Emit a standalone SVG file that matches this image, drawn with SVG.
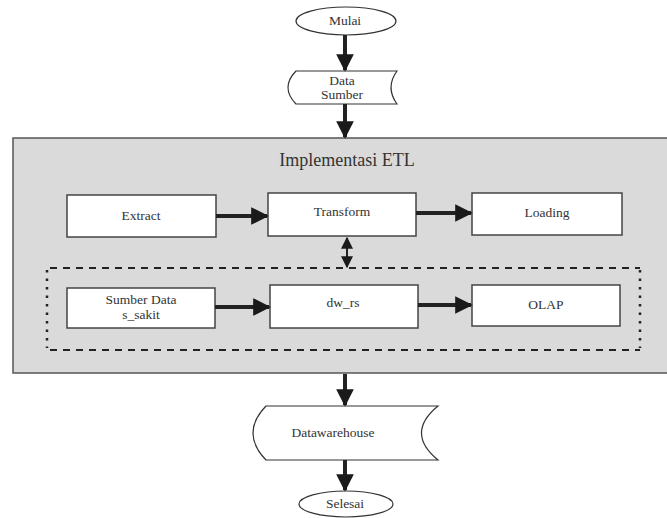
<svg xmlns="http://www.w3.org/2000/svg" width="667" height="518" viewBox="0 0 667 518">
  <style>
    .txt { font-family: "Liberation Serif", "DejaVu Serif", serif; fill: #333; text-anchor: middle; }
    .node { font-size: 13.5px; }
    .title { font-size: 18px; }
    .shape { fill: #fff; stroke: #333; stroke-width: 1.2; }
    .box { fill: #fff; stroke: #444; stroke-width: 1.5; }
    .flow { stroke: #222; stroke-width: 4; fill: none; }
    .dash-h { stroke: #222; stroke-width: 2; stroke-dasharray: 7 6; fill: none; }
    .dash-v { stroke: #222; stroke-width: 2.5; stroke-dasharray: 2.5 6; fill: none; }
  </style>
  <defs>
    <marker id="head" viewBox="0 0 10 10" refX="9" refY="5" markerWidth="4.4" markerHeight="4.4" orient="auto" markerUnits="strokeWidth">
      <path d="M0,0 L10,5 L0,10 Z" fill="#1a1a1a"/>
    </marker>
    <marker id="headSmall" viewBox="0 0 10 10" refX="9" refY="5" markerWidth="6" markerHeight="6" orient="auto-start-reverse" markerUnits="strokeWidth">
      <path d="M0,0 L10,5 L0,10 Z" fill="#1a1a1a"/>
    </marker>
  </defs>

  <rect width="667" height="518" fill="#fff"/>

  <!-- ETL container -->
  <g id="etl-container">
    <rect x="13" y="138" width="670" height="235" fill="#dadada" stroke="#555" stroke-width="1.5"/>
    <text class="txt title" x="347" y="166">Implementasi ETL</text>
  </g>

  <!-- dashed group around the data flow -->
  <g id="data-group">
    <line class="dash-h" x1="50" y1="268" x2="640" y2="268"/>
    <line class="dash-h" x1="50" y1="350" x2="640" y2="350"/>
    <line class="dash-v" x1="47" y1="270" x2="47" y2="348"/>
    <line class="dash-v" x1="640" y1="270" x2="640" y2="348"/>
  </g>

  <g id="mulai">
    <ellipse class="shape" cx="346" cy="21" rx="50" ry="14"/>
    <text class="txt node" x="345" y="25">Mulai</text>
  </g>

  <g id="data-sumber">
    <path class="shape" d="M296,71 L397,71 Q385,87.5 397,104 L296,104 Q280,87.5 296,71 Z"/>
    <text class="txt node" x="342" y="85">Data</text>
    <text class="txt node" x="342" y="99">Sumber</text>
  </g>

  <g id="extract">
    <rect class="box" x="67" y="195" width="149" height="42"/>
    <text class="txt node" x="141" y="220">Extract</text>
  </g>

  <g id="transform">
    <rect class="box" x="268" y="193" width="148" height="43"/>
    <text class="txt node" x="342" y="216">Transform</text>
  </g>

  <g id="loading">
    <rect class="box" x="472" y="193" width="150" height="42"/>
    <text class="txt node" x="547" y="217">Loading</text>
  </g>

  <g id="sumber-data">
    <rect class="box" x="67" y="288" width="148" height="40"/>
    <text class="txt node" x="141" y="304">Sumber Data</text>
    <text class="txt node" x="141" y="319">s_sakit</text>
  </g>

  <g id="dw-rs">
    <rect class="box" x="270" y="285" width="148" height="43"/>
    <text class="txt node" x="343" y="307">dw_rs</text>
  </g>

  <g id="olap">
    <rect class="box" x="472" y="285" width="148" height="41"/>
    <text class="txt node" x="546" y="309">OLAP</text>
  </g>

  <g id="datawarehouse">
    <path class="shape" d="M266,406 L438,406 Q405,433 438,460 L266,460 Q240,433 266,406 Z"/>
    <text class="txt node" x="333" y="437">Datawarehouse</text>
  </g>

  <g id="selesai">
    <ellipse class="shape" cx="346" cy="504" rx="47" ry="13"/>
    <text class="txt node" x="345" y="508">Selesai</text>
  </g>

  <!-- connectors -->
  <g id="connectors">
    <line class="flow" x1="345" y1="35" x2="345" y2="70" marker-end="url(#head)"/>
    <line class="flow" x1="345" y1="104" x2="345" y2="137" marker-end="url(#head)"/>
    <line class="flow" x1="216" y1="216" x2="267" y2="216" marker-end="url(#head)"/>
    <line class="flow" x1="416" y1="213" x2="471" y2="213" marker-end="url(#head)"/>
    <line stroke="#222" stroke-width="2" x1="347" y1="238" x2="347" y2="267" marker-start="url(#headSmall)" marker-end="url(#headSmall)"/>
    <line class="flow" x1="215" y1="307" x2="269" y2="307" marker-end="url(#head)"/>
    <line class="flow" x1="418" y1="305" x2="471" y2="305" marker-end="url(#head)"/>
    <line class="flow" x1="345" y1="374" x2="345" y2="405" marker-end="url(#head)"/>
    <line class="flow" x1="345" y1="460" x2="345" y2="490" marker-end="url(#head)"/>
  </g>
</svg>
